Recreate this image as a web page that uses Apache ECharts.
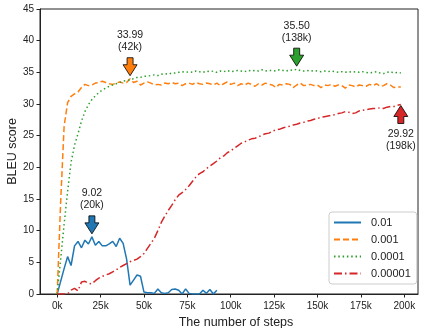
<!DOCTYPE html>
<html>
<head>
<meta charset="utf-8">
<script src="https://cdn.jsdelivr.net/npm/echarts@6/dist/echarts.min.js"></script>
<style>
  html, body { margin: 0; padding: 0; background: #fff; }
  #chart { width: 429px; height: 328px; }
</style>
</head>
<body>
<div id="chart"></div>
<script>
// steps in thousands (eval every 2k)
var steps = [0,2,4,6,8,10,12,14,16,18,20,22,24,26,28,30,32,34,36,38,40,42,44,46,48,50,52,54,56,58,
  60,62,64,66,68,70,72,74,76,78,80,82,84,86,88,90,92,94,96,98,100,102,104,106,108,110,112,114,116,118,
  120,122,124,126,128,130,132,134,136,138,140,142,144,146,148,150,152,154,156,158,160,162,164,166,168,170,
  172,174,176,178,180,182,184,186,188,190,192,194,196,198];

var lr01 = [0,2.0,4.0,5.9,4.5,7.6,8.3,7.3,8.5,7.9,9.02,7.7,8.3,7.6,7.6,7.9,8.3,7.5,8.8,8.0,
  5.5,1.4,2.2,3.0,2.8,0.3,0.2,0.2,0.1,0.8,0.2,0.1,0.2,0.7,0.8,0.6,0.0,0.8,0.1,0.0,
  0.0,0.0,0.6,0.1,0.7,0.0,0.6];

var lr001 = [0,14.5,26.5,30.2,31.2,31.6,31.9,32.6,33.1,32.9,33.0,33.3,33.4,33.6,33.4,33.2,33.1,33.3,33.5,33.3,
  33.4,33.99,33.4,33.6,33.0,33.3,33.5,33.3,33.0,33.1,33.0,33.3,33.2,33.4,33.2,33.3,32.9,33.2,33.3,33.1,
  33.4,33.2,33.1,33.3,33.2,33.0,33.3,32.9,33.2,33.5,33.1,33.3,32.9,33.2,33.0,33.3,33.1,32.8,33.2,33.0,
  33.3,33.1,33.0,32.6,33.1,33.0,33.2,33.1,32.6,33.0,33.3,32.9,33.0,33.1,32.9,33.0,32.6,33.0,32.9,33.1,
  32.8,33.0,32.9,32.5,33.0,32.9,32.7,33.0,32.9,32.8,33.1,32.9,33.2,32.8,32.9,33.2,33.0,32.6,32.7,32.7];

var lr0001 = [0,5.5,11.0,16.2,20.8,23.5,25.3,27.3,28.8,29.9,30.7,31.3,31.8,32.2,32.5,32.8,33.0,33.2,33.4,33.6,
  33.7,33.8,34.0,34.2,34.2,34.4,34.4,34.5,34.6,34.5,34.7,34.8,34.7,34.9,34.9,35.0,35.1,35.0,35.1,35.0,
  35.2,35.1,35.0,35.2,35.1,35.2,35.0,35.2,35.1,35.3,35.1,35.2,35.3,35.2,35.1,35.3,35.2,35.3,35.2,35.4,
  35.2,35.3,35.3,35.2,35.4,35.3,35.2,35.4,35.3,35.50,35.3,35.2,35.3,35.2,35.3,35.2,35.1,35.2,35.1,35.2,
  35.1,35.0,35.1,35.0,35.1,35.0,35.1,35.0,35.1,35.0,34.9,35.0,35.1,34.9,34.8,35.0,35.1,34.9,35.0,34.9];

var lr00001 = [0,0,0,0,0.6,0.9,0.5,1.9,2.0,1.7,1.6,2.1,2.5,2.8,3.0,3.2,3.5,3.8,4.2,4.5,
  4.8,5.1,5.3,5.5,5.9,6.4,7.2,8.0,8.8,10.0,11.3,12.3,13.2,14.0,14.9,15.6,16.0,16.5,17.1,17.8,
  18.5,19.0,19.3,19.8,20.2,20.6,21.0,21.5,21.8,22.3,22.6,23.0,23.4,23.8,24.0,24.3,24.5,24.6,24.8,25.1,
  25.3,25.4,25.7,25.9,26.0,26.2,26.4,26.5,26.7,26.8,27.0,27.1,27.3,27.4,27.6,27.7,27.9,28.0,28.1,28.2,
  28.3,28.5,28.6,28.8,28.7,28.5,28.6,28.9,29.0,29.1,29.2,29.3,29.3,29.4,29.3,29.5,29.6,29.6,29.8,29.92];

var seriesNames = ['0.01', '0.001', '0.0001', '0.00001'];
var seriesValues = [lr01, lr001, lr0001, lr00001];
var colors = ['#1f77b4', '#ff7f0e', '#2ca02c', '#d62728'];
var dashes = ['solid', [6, 3], [1.5, 2.8], [8, 3, 1.5, 3]];

// best score annotations: step (k) and BLEU
var bestSteps = [20, 42, 138, 198];
var bestScores = [9.02, 33.99, 35.50, 29.92];
var xTicks = [0, 25, 50, 75, 100, 125, 150, 175, 200];

var FONT = 'Liberation Sans';
var arrowDown = 'path://M4,0 L10,0 L10,7 L14,7 L7,18 L0,7 L4,7 Z';
var arrowUp = 'path://M7,0 L14,11 L10,11 L10,18 L4,18 L4,11 L0,11 Z';

var chart = echarts.init(document.getElementById('chart'));

var series = seriesNames.map(function (name, i) {
  var up = i === 3;
  return {
    name: name,
    type: 'line',
    symbol: 'none',
    data: seriesValues[i].map(function (v, j) { return [steps[j], v]; }),
    lineStyle: { color: colors[i], width: 1.5, type: dashes[i] },
    itemStyle: { color: colors[i] },
    z: 2 + i,
    markPoint: {
      symbol: up ? arrowUp : arrowDown,
      symbolSize: [14, 18],
      symbolOffset: [0, up ? 10 : -12],
      itemStyle: { color: colors[i], borderColor: '#000', borderWidth: 0.8 },
      label: {
        show: true,
        position: up ? 'bottom' : 'top',
        distance: 4,
        color: '#222',
        fontFamily: FONT,
        fontSize: 10.5,
        lineHeight: 12,
        formatter: function () {
          return bestScores[i].toFixed(2) + '\n(' + bestSteps[i] + 'k)';
        }
      },
      data: [{ coord: [bestSteps[i], bestScores[i]] }]
    }
  };
});

var option = {
  animation: false,
  textStyle: { fontFamily: FONT },
  grid: {
    left: 40, right: 11, top: 9, bottom: 34,
    outerBoundsMode: 'none',
    show: true, borderColor: '#222', borderWidth: 1
  },
  legend: {
    orient: 'vertical',
    left: 329,
    top: 212,
    data: seriesNames,
    itemWidth: 27,
    itemHeight: 12,
    itemGap: 6,
    padding: [5, 6, 5, 4],
    backgroundColor: 'rgba(255,255,255,0.8)',
    borderColor: '#ccc',
    borderWidth: 1,
    borderRadius: 3,
    itemStyle: { opacity: 0, borderWidth: 0 },
    textStyle: { fontFamily: FONT, fontSize: 11, color: '#222', padding: [0, 0, 0, 5] }
  },
  xAxis: {
    type: 'value',
    min: -9.9,
    max: 207.9,
    name: 'The number of steps',
    nameLocation: 'middle',
    nameGap: 20,
    nameTextStyle: { fontFamily: FONT, fontSize: 12.5, color: '#222', padding: [0, 0, 0, 14] },
    axisLine: { onZero: false, lineStyle: { color: '#222' } },
    axisTick: { customValues: xTicks, length: 3.5, lineStyle: { color: '#222' } },
    axisLabel: {
      customValues: xTicks,
      color: '#222',
      fontSize: 10,
      margin: 7,
      formatter: function (v) { return v + 'k'; }
    },
    splitLine: { show: false }
  },
  yAxis: {
    type: 'value',
    min: 0,
    max: 45,
    interval: 5,
    name: 'BLEU score',
    nameLocation: 'middle',
    nameGap: 21,
    nameMoveOverlap: false,
    nameTextStyle: { fontFamily: FONT, fontSize: 12.5, color: '#222' },
    axisLine: { show: true, onZero: false, lineStyle: { color: '#222' } },
    axisTick: { show: true, length: 3.5, lineStyle: { color: '#222' } },
    axisLabel: { color: '#222', fontSize: 10, margin: 6 },
    splitLine: { show: false }
  },
  series: series
};

chart.setOption(option);
window.addEventListener('resize', function () {
  chart.resize();
});
</script>
</body>
</html>
